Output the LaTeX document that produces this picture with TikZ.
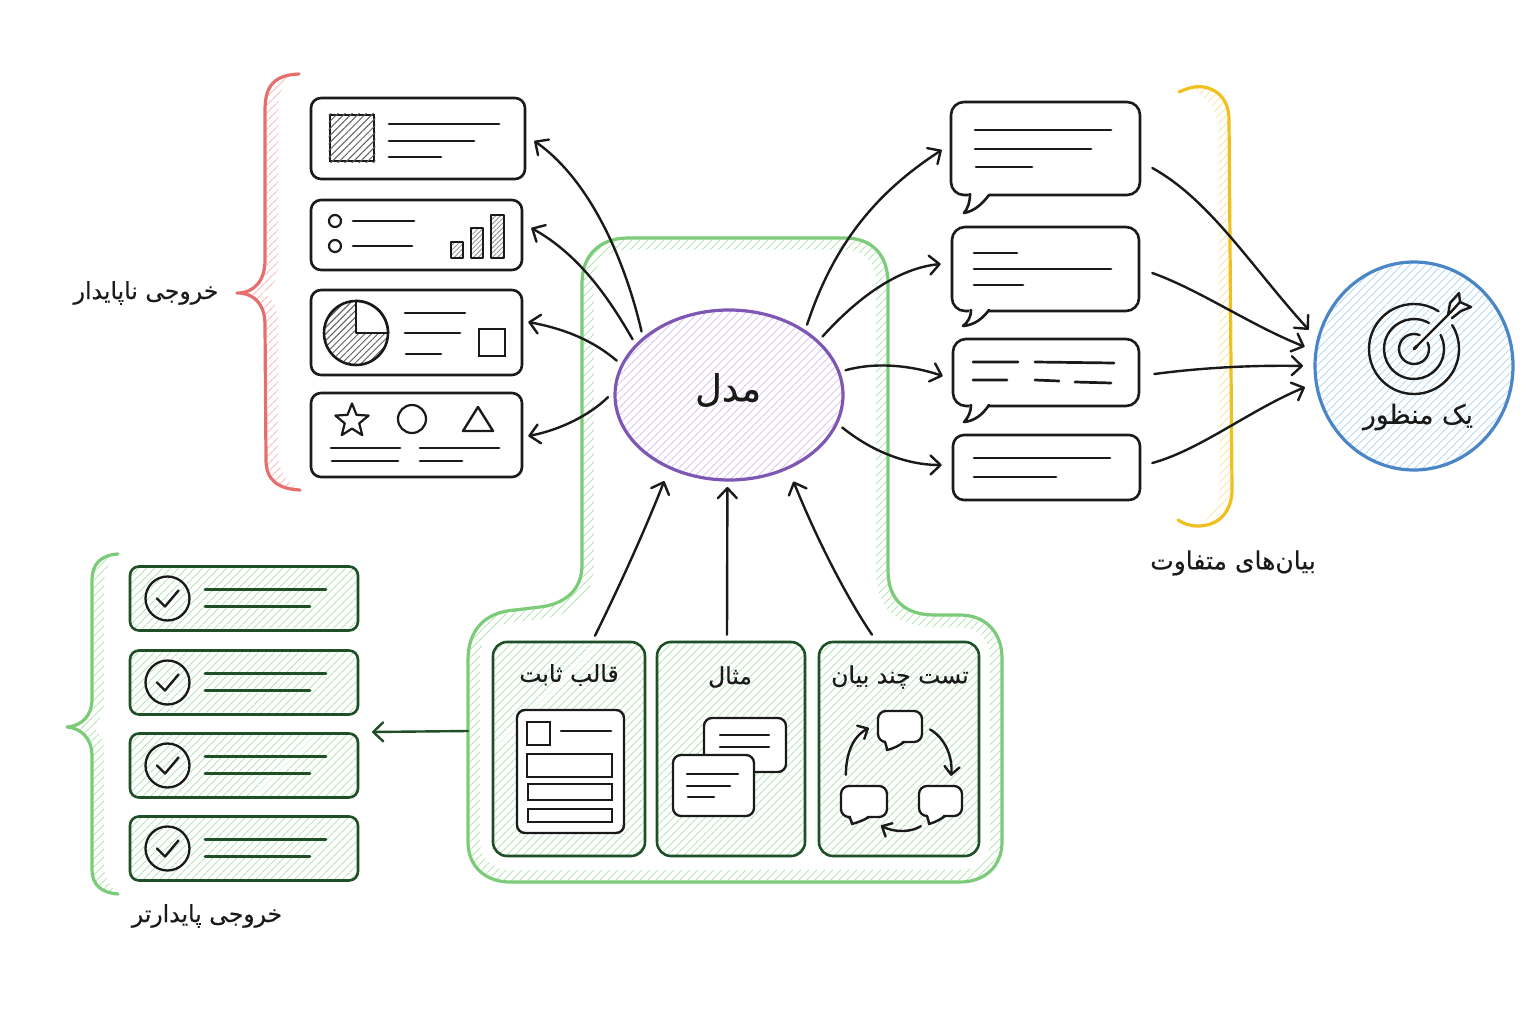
\documentclass[tikz,border=0pt]{standalone}
\usepackage{fontspec}
\TeXXeTstate=1
\newfontfamily\arabicfont[Script=Arabic,FakeBold=0.35]{DejaVu Sans}
\usetikzlibrary{patterns.meta,shapes.geometric,shapes.symbols,arrows.meta,calc}
\definecolor{ink}{HTML}{1A1A1A}
\definecolor{dgreen}{HTML}{1E4F27}
\definecolor{lgreen}{HTML}{7CCB78}
\definecolor{hgreen}{HTML}{B5E5B5}
\definecolor{mred}{HTML}{E56F6F}
\definecolor{hred}{HTML}{F7BABA}
\definecolor{myellow}{HTML}{F0C020}
\definecolor{hyellow}{HTML}{FAE6A0}
\definecolor{mblue}{HTML}{4A86C5}
\definecolor{hblue}{HTML}{B5DAF5}
\definecolor{mpurple}{HTML}{7E57B5}
\definecolor{hpurple}{HTML}{D8C3F6}
\newcommand{\fa}[1]{\arabicfont\beginR #1\endR}
\tikzset{
  hatch/.style={pattern={Lines[angle=45,distance=5.4pt,line width=1.2pt]},pattern color=#1},
  card/.style={draw=ink,line width=2.6pt,rounded corners=10pt,inner sep=0pt,fill=white,line join=round},
  okcard/.style={draw=dgreen,line width=2.6pt,rounded corners=9pt,inner sep=0pt,preaction={fill=white},hatch=hgreen,line join=round},
  panel/.style={draw=dgreen,line width=2.6pt,rounded corners=14pt,inner sep=0pt,preaction={fill=white},hatch=hgreen,line join=round},
  lbl/.style={inner sep=0pt,text=ink},
  txt/.style={line width=2.7pt,draw=ink,line cap=round},
  oktxt/.style={line width=2.8pt,draw=dgreen,line cap=round},
  icon/.style={line width=2.4pt,draw=ink,line cap=round,line join=round},
  thin/.style={line width=2.4pt,draw=ink,line cap=round,line join=round},
  conn/.style={draw=ink,line width=2.4pt,line cap=round,-{Straight Barb[length=10pt,width=19pt,line width=2.4pt,round]}},
  brace/.style={line width=3.2pt,line cap=round,line join=round},
  bubble/.style={draw=ink,line width=2.3pt,rounded corners=8pt,inner sep=0pt,fill=white},
}
\begin{document}
\begin{tikzpicture}[x=1pt,y=-1pt]
\useasboundingbox (0,0) rectangle (1536,1024);
\fill[white] (0,0) rectangle (1536,1024);

% ---- container band
\path[even odd rule,hatch=hgreen]
 (582,283) .. controls (582,255) and (600,238) .. (628,238) -- (845,238) .. controls (872,238) and (888,255) .. (888,283) -- (888,570) .. controls (888,600) and (905,615) .. (935,615) -- (960,615) .. controls (985,615) and (1002,632) .. (1002,658) -- (1002,842) .. controls (1002,866) and (985,882) .. (960,882) -- (510,882) .. controls (485,882) and (468,866) .. (468,842) -- (468,660) .. controls (468,630) and (485,612) .. (515,610) -- (540,607) .. controls (565,604) and (582,590) .. (582,565) -- cycle
 (594,283) .. controls (594,262) and (607,250) .. (628,250) -- (845,250) .. controls (865,250) and (876,262) .. (876,283) -- (876,570) .. controls (876,608) and (897,627) .. (935,627) -- (960,627) .. controls (978,627) and (990,640) .. (990,658) -- (990,842) .. controls (990,858) and (978,870) .. (960,870) -- (510,870) .. controls (492,870) and (480,858) .. (480,842) -- (480,660) .. controls (480,638) and (492,624) .. (515,622) -- (540,619) .. controls (572,616) and (594,598) .. (594,565) -- cycle;
\draw[draw=lgreen,line width=3.2pt,line join=round]
 (582,283) .. controls (582,255) and (600,238) .. (628,238) -- (845,238) .. controls (872,238) and (888,255) .. (888,283) -- (888,570) .. controls (888,600) and (905,615) .. (935,615) -- (960,615) .. controls (985,615) and (1002,632) .. (1002,658) -- (1002,842) .. controls (1002,866) and (985,882) .. (960,882) -- (510,882) .. controls (485,882) and (468,866) .. (468,842) -- (468,660) .. controls (468,630) and (485,612) .. (515,610) -- (540,607) .. controls (565,604) and (582,590) .. (582,565) -- cycle;

% ---- red brace
\path[hatch=hred] (299,74) .. controls (275,75) and (267,85) .. (267,110) -- (267,260) .. controls (267,280) and (255,293) .. (238,293) .. controls (255,293) and (267,305) .. (267,325) -- (268,460) .. controls (268,480) and (278,489) .. (300,490) .. controls (285,480) and (279,470) .. (278,455) -- (278,320) .. controls (278,305) and (272,298) .. (262,293) .. controls (272,288) and (278,280) .. (278,265) -- (278,110) .. controls (278,90) and (285,80) .. (299,74) -- cycle;
\draw[mred,brace] (299,74) .. controls (275,75) and (265,85) .. (265,110) -- (265,260) .. controls (265,280) and (255,293) .. (237,293) .. controls (255,293) and (265,305) .. (265,325) -- (266,460) .. controls (266,480) and (278,489) .. (300,490);

% ---- yellow bracket
\path[hatch=hyellow] (1190,87) .. controls (1215,86) and (1229,98) .. (1229,120) -- (1232,490) .. controls (1232,510) and (1220,524) .. (1200,526) .. controls (1212,515) and (1219,505) .. (1219,490) -- (1218,130) .. controls (1218,112) and (1210,98) .. (1190,87) -- cycle;
\draw[myellow,brace] (1179,92) .. controls (1190,87) and (1197,86) .. (1204,87) .. controls (1220,90) and (1229,102) .. (1229,120) -- (1232,490) .. controls (1232,510) and (1220,526) .. (1198,526) .. controls (1190,526) and (1184,524) .. (1178,520);

% ---- green brace
\path[hatch=hgreen] (118,554) .. controls (100,555) and (92,565) .. (92,580) -- (92,700) .. controls (92,715) and (82,726) .. (68,727) .. controls (82,728) and (92,740) .. (92,755) -- (92,870) .. controls (92,885) and (102,893) .. (118,894) .. controls (108,885) and (104,875) .. (104,865) -- (104,750) .. controls (104,740) and (100,733) .. (92,727) .. controls (100,721) and (104,712) .. (104,700) -- (104,585) .. controls (104,572) and (108,562) .. (118,554) -- cycle;
\draw[lgreen,brace] (118,554) .. controls (100,555) and (92,565) .. (92,580) -- (92,700) .. controls (92,715) and (82,726) .. (67,727) .. controls (82,728) and (92,740) .. (92,755) -- (92,870) .. controls (92,885) and (102,893) .. (118,894);

% ---- left cards
\node[card,minimum width=214pt,minimum height=81pt] (L1) at (418,138.5) {};
\node[card,minimum width=211pt,minimum height=70pt] (L2) at (416.5,235) {};
\node[card,minimum width=211pt,minimum height=85pt] (L3) at (416.5,332.5) {};
\node[card,minimum width=211pt,minimum height=84pt] (L4) at (416.5,435) {};

% L1 contents
\node[draw=ink,line width=2.6pt,minimum width=44pt,minimum height=46pt,inner sep=0pt,fill=white] (L1sq) at (352,138) {};
\path[pattern={Lines[angle=45,distance=5pt,line width=1pt]},pattern color=ink!70] (L1sq.north west) rectangle (L1sq.south east);
\draw[txt] (389,124) -- (499,124) (389,141) -- (474,141) (389,157) -- (441,157);
% L2 contents
\node[circle,draw=ink,line width=2.2pt,minimum size=12pt,inner sep=0pt] (L2a) at (335,221) {};
\node[circle,draw=ink,line width=2.2pt,minimum size=12pt,inner sep=0pt] (L2b) at (335,246) {};
\draw[txt] (353,221) -- (414,221) (353,246) -- (412,246);
\foreach \a/\b/\c in {451/463/242,471/483/228,491/504/215}{
  \path[pattern={Lines[angle=45,distance=3.4pt,line width=.8pt]},pattern color=ink!50] (\a,\c) rectangle (\b,258);
  \draw[line width=2.2pt,draw=ink,line join=round] (\a,\c) rectangle (\b,258);
}
% L3 contents
\node[circle,draw=ink,line width=2.6pt,minimum size=64pt,inner sep=0pt,pattern={Lines[angle=45,distance=4.6pt,line width=1pt]},pattern color=ink!70] (pie) at (356,333) {};
\fill[white] (356,301) .. controls (373.7,301) and (388,315.3) .. (388,333) -- (356,333) -- cycle;
\draw[line width=2.6pt,draw=ink,line join=round] (pie.north) -- (pie.center) -- (pie.east);
\draw[line width=2.6pt,draw=ink] (356,301) .. controls (373.7,301) and (388,315.3) .. (388,333);
\draw[txt] (405,313) -- (465,313) (405,333) -- (460,333) (406,354) -- (441,354);
\node[draw=ink,line width=2.2pt,minimum width=26pt,minimum height=27pt,inner sep=0pt] (L3sq) at (492,342.5) {};
% L4 contents
\node[star,star points=5,star point ratio=2.3,draw=ink,line width=2.2pt,minimum size=35pt,inner sep=0pt,line join=round] (L4star) at (352,421) {};
\node[circle,draw=ink,line width=2.2pt,minimum size=28pt,inner sep=0pt] (L4c) at (412,419) {};
\draw[icon] (478,407) -- (463,431) -- (493,431) -- cycle;
\draw[txt] (331,448) -- (400,448) (332,461) -- (398,461) (420,448) -- (499,448) (420,461) -- (462,461);

% ---- right bubbles
\node[bubble,line width=2.6pt,rounded corners=13pt,minimum width=189pt,minimum height=93pt] (R1) at (1045.5,148.5) {};
\fill[white] (970,191) -- (964,213) .. controls (975,211) and (983,203) .. (989,193) -- cycle;
\draw[line width=2.6pt,draw=ink,line join=round,line cap=round] (970,194) .. controls (970,202) and (968,208) .. (964,213) .. controls (975,211) and (983,203) .. (989,195);
\draw[txt] (975,130) -- (1111,130) (975,149) -- (1091,149) (976,167) -- (1032,167);

\node[bubble,line width=2.6pt,rounded corners=13pt,minimum width=187pt,minimum height=84pt] (R2) at (1045.5,269) {};
\fill[white] (971,307) -- (963,326) .. controls (975,325) and (983,318) .. (989,309) -- cycle;
\draw[line width=2.6pt,draw=ink,line join=round,line cap=round] (971,310) .. controls (971,317) and (968,322) .. (963,326) .. controls (975,325) and (983,318) .. (989,310);
\draw[txt] (974,253) -- (1017,253) (974,269) -- (1111,269) (974,285) -- (1023,285);

\node[bubble,line width=2.6pt,rounded corners=13pt,minimum width=186pt,minimum height=67pt] (R3) at (1046,372.5) {};
\fill[white] (971,402) -- (964,422) .. controls (975,421) and (983,414) .. (989,404) -- cycle;
\draw[line width=2.6pt,draw=ink,line join=round,line cap=round] (971,405) .. controls (971,412) and (968,418) .. (964,422) .. controls (975,421) and (983,414) .. (989,405);
\draw[txt] (973,362) -- (1018,362) (1035,362) -- (1114,363) (973,380) -- (1007,380) (1035,380) -- (1059,381) (1075,382) -- (1111,383);

\node[bubble,line width=2.6pt,rounded corners=11pt,minimum width=187pt,minimum height=65pt] (R4) at (1046.5,467.5) {};
\draw[txt] (974,458) -- (1110,458) (974,477) -- (1056,477);

% ---- model
\node[ellipse,draw=mpurple,line width=3.2pt,minimum width=228pt,minimum height=170pt,inner sep=0pt,outer sep=7pt,preaction={fill=white},hatch=hpurple] (model) at (729,395) {};
\node[lbl,font=\fontsize{37}{41}\selectfont] (modelt) at (728,390) {\fa{مدل}};

% ---- target
\node[ellipse,draw=mblue,line width=3.2pt,minimum width=198pt,minimum height=208pt,inner sep=0pt,outer sep=12pt,preaction={fill=white},hatch=hblue] (target) at (1414,366) {};
\draw[icon] (1414,349) ++(57:45pt) arc[start angle=57,end angle=392,radius=45pt];
\draw[icon] (1414,349) ++(60:30pt) arc[start angle=60,end angle=388,radius=30pt];
\draw[icon] (1414,349) ++(68:15pt) arc[start angle=68,end angle=385,radius=15pt];
\draw[icon] (1414,349) -- (1449,314);
\draw[icon,line width=3pt] (1414,349) -- (1417,346);
\draw[icon] (1448,315) -- (1450,303) -- (1459,293) -- (1460,302) -- (1471,307) -- (1461,311) -- (1452,318);
\draw[icon] (1450,313) -- (1460,302);
\node[lbl,font=\fontsize{26.5}{30}\selectfont] (targett) at (1418,417) {\fa{یک منظور}};

% ---- panels
\node[panel,minimum width=152pt,minimum height=214pt] (P1) at (569,749) {};
\node[panel,minimum width=148pt,minimum height=214pt] (P2) at (731,749) {};
\node[panel,minimum width=160pt,minimum height=214pt] (P3) at (899,749) {};
\node[lbl,font=\fontsize{23.5}{27}\selectfont] (P1t) at (569,675) {\fa{قالب ثابت}};
\node[lbl,font=\fontsize{23.5}{27}\selectfont] (P2t) at (730,677) {\fa{مثال}};
\node[lbl,font=\fontsize{23.5}{27}\selectfont] (P3t) at (900,677) {\fa{تست چند بیان}};

% P1 doc
\node[draw=ink,line width=2.4pt,rounded corners=8pt,fill=white,minimum width=107pt,minimum height=123pt,inner sep=0pt] (doc) at (570.5,771.5) {};
\node[draw=ink,line width=2.2pt,minimum width=23pt,minimum height=23pt,inner sep=0pt] (docsq) at (538.5,733.5) {};
\draw[thin] (561,731) -- (611,731);
\node[draw=ink,line width=2.2pt,minimum width=85pt,minimum height=23pt,inner sep=0pt] (docr1) at (569.5,765.5) {};
\node[draw=ink,line width=2.2pt,minimum width=84pt,minimum height=16pt,inner sep=0pt] (docr2) at (570,792) {};
\node[draw=ink,line width=2.2pt,minimum width=84pt,minimum height=13pt,inner sep=0pt] (docr3) at (570,815.5) {};
% P2 example cards
\node[bubble,minimum width=82pt,minimum height=54pt,rounded corners=8pt] (ex2) at (745,745) {};
\draw[thin] (720,735) -- (769,735) (720,747) -- (769,747);
\node[bubble,minimum width=81pt,minimum height=61pt,rounded corners=8pt] (ex1) at (713.5,785.5) {};
\draw[thin] (687,774) -- (738,774) (687,786) -- (730,786) (688,797) -- (714,797);
% P3 cycle
\node[bubble,minimum width=44pt,minimum height=31pt] (c1) at (900,726.5) {};
\fill[white] (886,740) -- (887,750) .. controls (895,748) and (900,745) .. (903,740) -- cycle;
\draw[thin] (885,742) .. controls (886,745) and (887,748) .. (887,750) .. controls (895,748) and (900,745) .. (904,742);
\node[bubble,minimum width=43pt,minimum height=30pt] (c2) at (940.5,801) {};
\fill[white] (928,814) -- (929,824) .. controls (936,822) and (941,819) .. (944,814) -- cycle;
\draw[thin] (927,816) .. controls (928,819) and (929,822) .. (929,824) .. controls (936,822) and (941,819) .. (945,816);
\node[bubble,minimum width=46pt,minimum height=31pt] (c3) at (864,801.5) {};
\fill[white] (851,815) -- (852,824) .. controls (859,822) and (864,820) .. (868,815) -- cycle;
\draw[thin] (849,817) .. controls (851,820) and (852,822) .. (852,824) .. controls (859,822) and (864,820) .. (869,817);
\tikzset{cyc/.style={draw=ink,line width=2.4pt,line cap=round,-{Straight Barb[length=8pt,width=15pt,line width=2.4pt,round]}}}
\draw[cyc] ([shift={(7,3)}]c1.east) .. controls (945,738) and (953,757) .. ([shift={(10.5,-9)}]c2.north);
\draw[cyc] ([shift={(3,9)}]c2.south west) .. controls (912,832) and (895,833) .. ([shift={(41,7.5)}]c3.south west);
\draw[cyc] ([shift={(6,-10)}]c3.north west) .. controls (846,755) and (852,737) .. ([shift={(-8,1.5)}]c1.west);

% ---- stable cards
\foreach \n/\y in {1/598.5,2/682.5,3/765.5,4/848.5}{
  \node[okcard,minimum width=228pt,minimum height=64pt] (S\n) at (244,\y) {};
  \node[circle,draw=ink,line width=2.3pt,minimum size=44pt,inner sep=0pt] (C\n) at (167.5,\y) {};
  \draw[icon] ($(C\n.center)+(-10.5,0)$) -- ($(C\n.center)+(-2.5,8)$) -- ($(C\n.center)+(11,-8)$);
  \draw[oktxt] ($(S\n.center)+(-39,-9)$) -- ($(S\n.center)+(82,-9)$);
  \draw[oktxt] ($(S\n.center)+(-39,8)$) -- ($(S\n.center)+(66,8)$);
}

% ---- connectors
\draw[conn] (model.144) .. controls (625,260) and (590,180) .. ([shift={(8,2.5)}]L1.east);
\draw[conn] (model.150) .. controls (610,300) and (580,255) .. ([shift={(8,-7)}]L2.east);
\draw[conn] (model.163) .. controls (590,338) and (560,328) .. ([shift={(5,-10.5)}]L3.east);
\draw[conn] (model.181) .. controls (590,415) and (560,430) .. ([shift={(5,1)}]L4.east);
\draw[conn] (model.42) .. controls (835,240) and (880,190) .. ([shift={(-8,1.5)}]R1.west);
\draw[conn] (model.32) .. controls (860,295) and (900,268) .. ([shift={(-10,-5)}]R2.west);
\draw[conn] (model.12.5) .. controls (875,362) and (910,365) .. ([shift={(-9,3.5)}]R3.west);
\draw[conn] (model.-16) .. controls (870,450) and (905,465) .. ([shift={(-10,-2.5)}]R4.west);
\draw[conn] ([shift={(26,-5)}]P1.north) .. controls (620,585) and (645,530) .. ([shift={(-3,7)}]model.232);
\draw[conn] ([shift={(-4,-6)}]P2.north) -- (model.269);
\draw[conn] ([shift={(-27,-6)}]P3.north) .. controls (845,595) and (815,535) .. ([shift={(6,6)}]model.306);
\draw[conn] ([shift={(11,19.5)}]R1.east) .. controls (1210,200) and (1250,265) .. (target.161.6);
\draw[conn] ([shift={(12,4)}]R2.east) .. controls (1200,290) and (1250,325) .. (target.170.5);
\draw[conn] ([shift={(14,1.5)}]R3.east) .. controls (1200,368) and (1250,365) .. (target.180);
\draw[conn] ([shift={(11,-4.5)}]R4.east) .. controls (1200,450) and (1250,410) .. (target.191.5);
\coordinate (contW) at (468,731);
\coordinate (stableE) at (372,732);
\draw[conn,draw=dgreen] (contW) -- (stableE);

% ---- labels
\node[lbl,font=\fontsize{23.5}{27}\selectfont] (unstable) at (146,293) {\fa{خروجی ناپایدار}};
\node[lbl,font=\fontsize{23.5}{27}\selectfont] (stable) at (207,916) {\fa{خروجی پایدارتر}};
\node[lbl,font=\fontsize{25}{29}\selectfont] (variants) at (1233,563) {\fa{بیان‌های متفاوت}};
\end{tikzpicture}
\end{document}
